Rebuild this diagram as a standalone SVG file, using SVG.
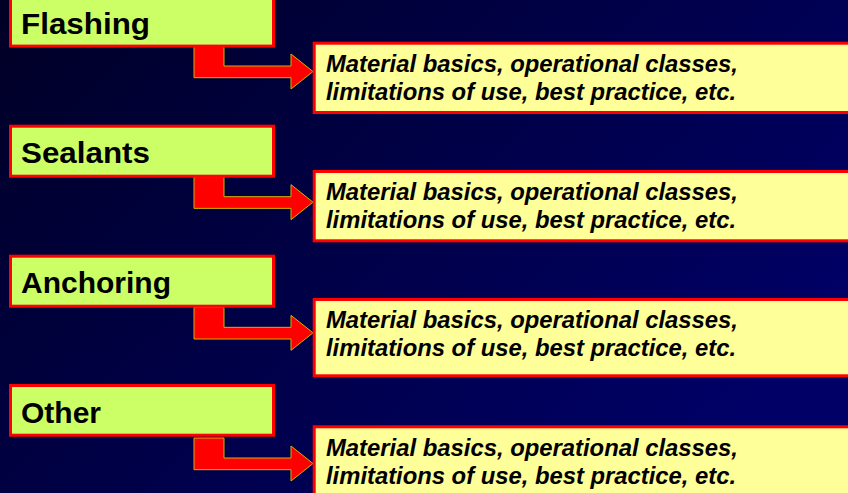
<svg xmlns="http://www.w3.org/2000/svg" width="848" height="493" viewBox="0 0 848 493">
<defs>
<linearGradient id="bg" x1="0" y1="0" x2="1" y2="0.6">
<stop offset="0" stop-color="#000026"/>
<stop offset="1" stop-color="#000066"/>
</linearGradient>
<path id="arr" d="M194,46 L224,46 L224,66 L291,66 L291,54 L313,71.5 L291,89 L291,77.7 L194,77.7 Z"/>
</defs>
<style>
.title{fill:#CCFF66;stroke:#FF0000;stroke-width:3}
.detail{fill:#FFFF99;stroke:#FF0000;stroke-width:3}
.tt{font-family:"Liberation Sans",Arial,sans-serif;font-weight:bold;font-size:30px;fill:#000}
.dt{font-family:"Liberation Sans",Arial,sans-serif;font-weight:bold;font-style:italic;font-size:23px;fill:#000}
.arrow{fill:#FF0000;stroke:#D4B000;stroke-width:1}
</style>
<rect x="0" y="0" width="848" height="493" fill="url(#bg)"/>
<g id="connectors">
<use href="#arr" class="arrow"/>
<use href="#arr" class="arrow" transform="translate(0,130.67)"/>
<use href="#arr" class="arrow" transform="translate(0,261.33)"/>
<use href="#arr" class="arrow" transform="translate(0,392)"/>
</g>
<g id="flashing">
<rect class="title" x="10.5" y="-6" width="263" height="52.1"/>
<text class="tt" x="21" y="34.3" textLength="129" lengthAdjust="spacingAndGlyphs">Flashing</text>
</g>
<g id="flashing-detail">
<rect class="detail" x="314.2" y="43.2" width="600" height="69.3"/>
<text class="dt" x="326" y="71.5" textLength="412" lengthAdjust="spacingAndGlyphs">Material basics, operational classes,</text>
<text class="dt" x="326" y="99.5" textLength="410" lengthAdjust="spacingAndGlyphs">limitations of use, best practice, etc.</text>
</g>
<g id="sealants">
<rect class="title" x="10.5" y="126.2" width="263" height="50"/>
<text class="tt" x="21" y="162.7" textLength="129" lengthAdjust="spacingAndGlyphs">Sealants</text>
</g>
<g id="sealants-detail">
<rect class="detail" x="314.2" y="171.5" width="600" height="69.3"/>
<text class="dt" x="326" y="199.5" textLength="412" lengthAdjust="spacingAndGlyphs">Material basics, operational classes,</text>
<text class="dt" x="326" y="227.5" textLength="410" lengthAdjust="spacingAndGlyphs">limitations of use, best practice, etc.</text>
</g>
<g id="anchoring">
<rect class="title" x="10.5" y="256.2" width="263" height="50"/>
<text class="tt" x="21" y="293.3">Anchoring</text>
</g>
<g id="anchoring-detail">
<rect class="detail" x="314.2" y="299.5" width="600" height="76.3"/>
<text class="dt" x="326" y="327.5" textLength="412" lengthAdjust="spacingAndGlyphs">Material basics, operational classes,</text>
<text class="dt" x="326" y="356" textLength="410" lengthAdjust="spacingAndGlyphs">limitations of use, best practice, etc.</text>
</g>
<g id="other">
<rect class="title" x="10.5" y="385.5" width="263" height="49.7"/>
<text class="tt" x="21" y="423">Other</text>
</g>
<g id="other-detail">
<rect class="detail" x="314.2" y="426.8" width="600" height="80"/>
<text class="dt" x="326" y="456" textLength="412" lengthAdjust="spacingAndGlyphs">Material basics, operational classes,</text>
<text class="dt" x="326" y="484" textLength="410" lengthAdjust="spacingAndGlyphs">limitations of use, best practice, etc.</text>
</g>
</svg>
